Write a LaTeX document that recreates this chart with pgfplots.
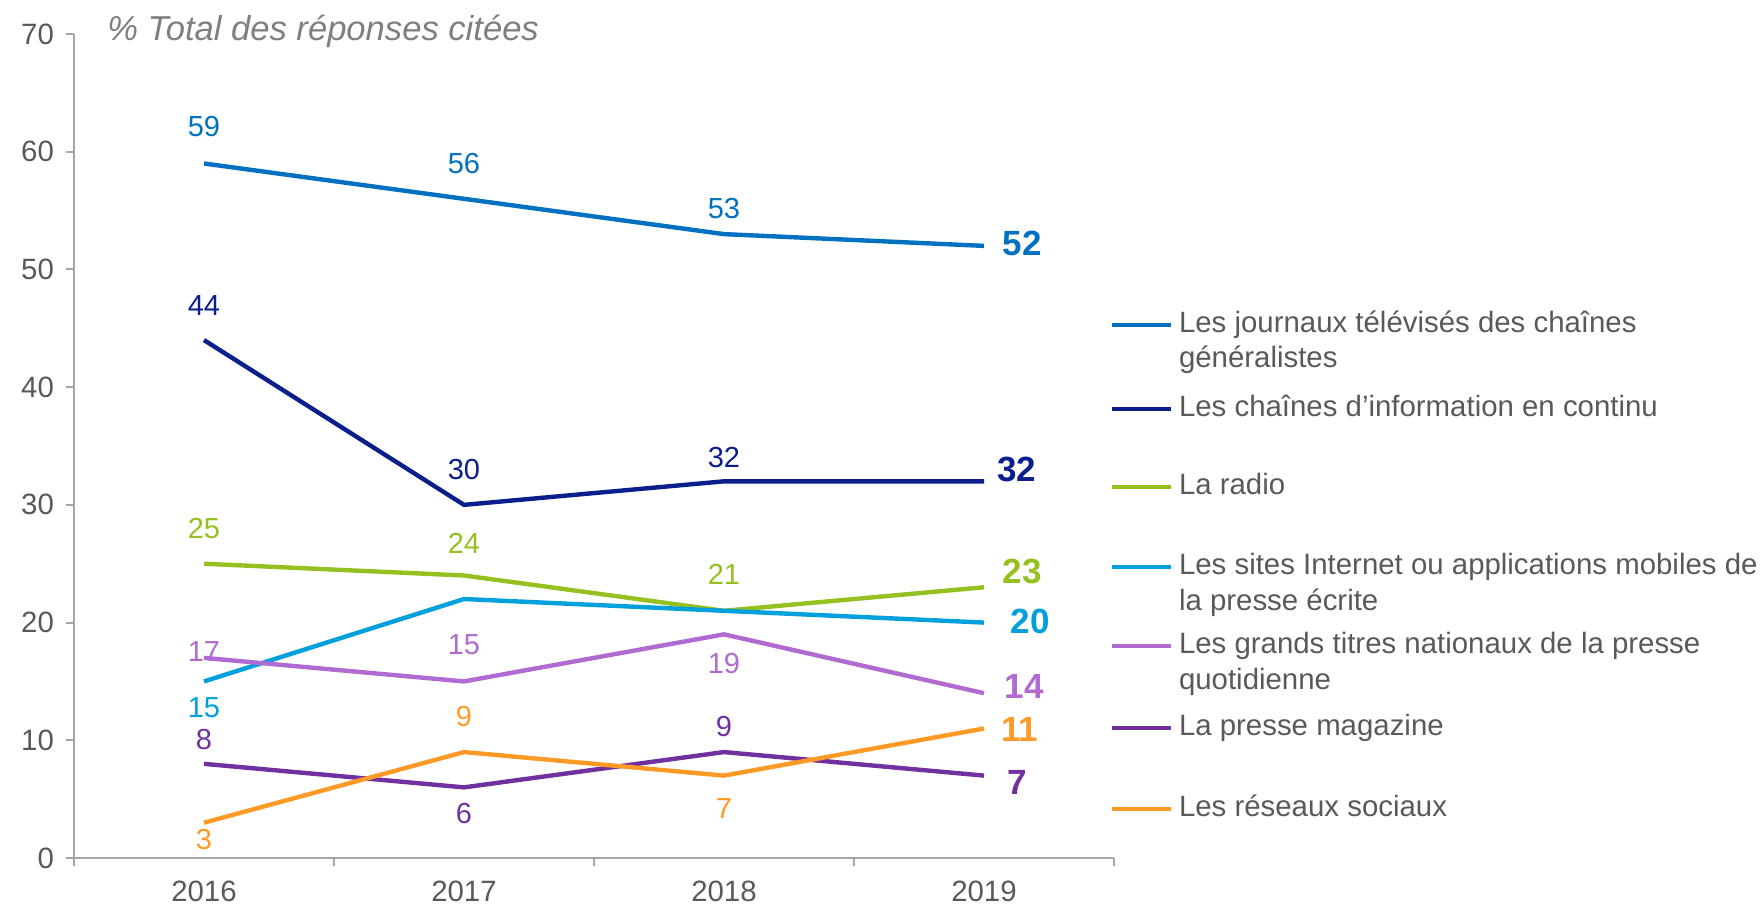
\documentclass[border=0pt]{standalone}
\usepackage{pgfplots}
\pgfplotsset{compat=1.18}
\usepackage{fontspec}
\setmainfont{Liberation Sans}

\definecolor{cJT}{HTML}{0070C0}
\definecolor{cINFO}{HTML}{0A1E8C}
\definecolor{cRADIO}{HTML}{94C11F}
\definecolor{cSITES}{HTML}{00A0DC}
\definecolor{cTITRES}{HTML}{B06AD2}
\definecolor{cMAG}{HTML}{7030A0}
\definecolor{cRS}{HTML}{FF9A26}
\definecolor{axisgray}{HTML}{A6A6A6}
\definecolor{labgray}{HTML}{595959}
\definecolor{titlegray}{HTML}{7F7F7F}

\begin{document}
\begin{tikzpicture}[
  lbl/.style={font=\fontsize{14.5}{16}\selectfont, inner sep=0pt},
  big/.style={font=\bfseries\fontsize{17.5}{20}\selectfont, inner sep=0pt},
  leg/.style={anchor=west, font=\fontsize{14.7}{17}\selectfont, text=labgray,
              text height=0.72em, text depth=0pt, inner sep=0pt},
]
\path[use as bounding box] (-37pt,-23.5pt) rectangle (843.5pt,429pt);
\begin{axis}[
  at={(0,0)}, anchor=south west,
  scale only axis, width=520pt, height=412pt,
  xmin=-0.5, xmax=3.5, ymin=0, ymax=70,
  axis x line=bottom, axis y line=left,
  axis line style={-, draw=axisgray, line width=1pt},
  ytick={0,10,...,70},
  yticklabel style={xshift=-2.5pt},
  xtick={-0.5,0.5,1.5,2.5,3.5}, xticklabels={},
  extra x ticks={0,1,2,3},
  extra x tick labels={2016,2017,2018,2019},
  extra x tick style={major tick length=0pt,
    xticklabel style={yshift=-8pt}},
  tick align=outside, major tick length=4pt,
  tick style={draw=axisgray, line width=1pt},
  ticklabel style={font=\fontsize{14.7}{16}\selectfont, text=labgray},
  /pgf/number format/assume math mode=true,
  clip=false,
  every axis plot/.append style={line width=2.2pt, mark=none, line join=round},
]
% Les journaux télévisés
\addplot[cJT] coordinates {(0,59) (1,56) (2,53) (3,52)};
% Chaînes d'information en continu
\addplot[cINFO] coordinates {(0,44) (1,30) (2,32) (3,32)};
% Radio
\addplot[cRADIO] coordinates {(0,25) (1,24) (2,21) (3,23)};
% Sites internet presse écrite
\addplot[cSITES] coordinates {(0,15) (1,22) (2,21) (3,20)};
% Grands titres nationaux
\addplot[cTITRES] coordinates {(0,17) (1,15) (2,19) (3,14)};
% Presse magazine
\addplot[cMAG] coordinates {(0,8) (1,6) (2,9) (3,7)};
% Réseaux sociaux
\addplot[cRS] coordinates {(0,3) (1,9) (2,7) (3,11)};

% étiquettes
\node[lbl, text=cJT] at (axis cs:0,62.1) {59};
\node[lbl, text=cJT] at (axis cs:1,59.0) {56};
\node[lbl, text=cJT] at (axis cs:2,55.2) {53};
\node[big, text=cJT] at (axis cs:3.147,52.2) {52};

\node[lbl, text=cINFO] at (axis cs:0,46.9) {44};
\node[lbl, text=cINFO] at (axis cs:1,33.0) {30};
\node[lbl, text=cINFO] at (axis cs:2,34.05) {32};
\node[big, text=cINFO] at (axis cs:3.125,33.0) {32};

\node[lbl, text=cRADIO] at (axis cs:0,28.0) {25};
\node[lbl, text=cRADIO] at (axis cs:1,26.7) {24};
\node[lbl, text=cRADIO] at (axis cs:2,24.1) {21};
\node[big, text=cRADIO] at (axis cs:3.147,24.3) {23};

\node[lbl, text=cSITES] at (axis cs:0,12.8) {15};
\node[big, text=cSITES] at (axis cs:3.177,20.1) {20};

\node[lbl, text=cTITRES] at (axis cs:0,17.55) {17};
\node[lbl, text=cTITRES] at (axis cs:1,18.1) {15};
\node[lbl, text=cTITRES] at (axis cs:2,16.5) {19};
\node[big, text=cTITRES] at (axis cs:3.155,14.6) {14};

\node[lbl, text=cMAG] at (axis cs:0,10.1) {8};
\node[lbl, text=cMAG] at (axis cs:1,3.8) {6};
\node[lbl, text=cMAG] at (axis cs:2,11.15) {9};
\node[big, text=cMAG] at (axis cs:3.129,6.4) {7};

\node[lbl, text=cRS] at (axis cs:0,1.6) {3};
\node[lbl, text=cRS] at (axis cs:1,12.0) {9};
\node[lbl, text=cRS] at (axis cs:2,4.2) {7};
\node[big, text=cRS] at (axis cs:3.138,10.9) {11};
\end{axis}

% titre
\node[anchor=west, font=\itshape\fontsize{17.3}{20}\selectfont, text=titlegray, inner sep=0pt]
  at (16.5pt,413.3pt) {\% Total des réponses citées};

% légende
\begin{scope}[line width=2pt]
\draw[cJT] (519pt,266.5pt) -- (548.5pt,266.5pt);
\node[leg] at (551.5pt,266.5pt) {Les journaux télévisés des chaînes};
\node[leg] at (551.5pt,249pt) {généralistes};
\draw[cINFO] (519pt,224.5pt) -- (548.5pt,224.5pt);
\node[leg] at (551.5pt,224.5pt) {Les chaînes d’information  en continu};
\draw[cRADIO] (519pt,185.5pt) -- (548.5pt,185.5pt);
\node[leg] at (551.5pt,185.5pt) {La radio};
\draw[cSITES] (519pt,145.5pt) -- (548.5pt,145.5pt);
\node[leg] at (551.5pt,145.5pt) {Les sites Internet ou applications mobiles de};
\node[leg] at (551.5pt,127.5pt) {la presse écrite};
\draw[cTITRES] (519pt,106pt) -- (548.5pt,106pt);
\node[leg] at (551.5pt,106pt) {Les grands titres nationaux de la presse};
\node[leg] at (551.5pt,88pt) {quotidienne};
\draw[cMAG] (519pt,65pt) -- (548.5pt,65pt);
\node[leg] at (551.5pt,65pt) {La presse magazine};
\draw[cRS] (519pt,24.5pt) -- (548.5pt,24.5pt);
\node[leg] at (551.5pt,24.5pt) {Les réseaux sociaux};
\end{scope}
\end{tikzpicture}
\end{document}
